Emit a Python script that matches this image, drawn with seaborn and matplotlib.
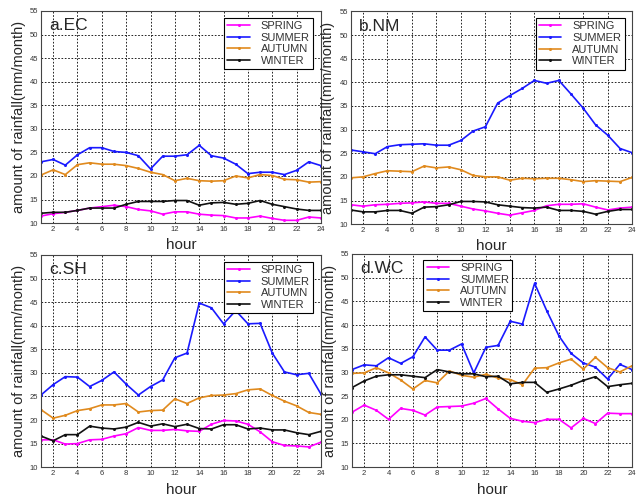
import pandas as pd
import matplotlib.pyplot as plt
import seaborn as sns

# heures et saisons
hours = list(range(1, 25))
seasons = ["SPRING", "SUMMER", "AUTUMN", "WINTER"]
colors = {"SPRING": "#ff00ff", "SUMMER": "#1a1aff", "AUTUMN": "#e08a1e", "WINTER": "#111111"}

# a.EC
ec_spring = [11.5, 12.0, 12.3, 12.7, 13.2, 13.5, 13.8, 13.5, 12.9, 12.6, 11.9, 12.4,
             12.4, 11.9, 11.7, 11.6, 11.1, 11.1, 11.5, 11.0, 10.6, 10.6, 11.3, 11.1]
ec_summer = [23.0, 23.5, 22.3, 24.5, 26.0, 26.0, 25.2, 25.0, 24.3, 21.5, 24.2, 24.2,
             24.5, 26.5, 24.3, 23.8, 22.5, 20.5, 20.8, 20.8, 20.3, 21.2, 23.0, 22.2]
ec_autumn = [20.2, 21.3, 20.3, 22.4, 22.8, 22.5, 22.5, 22.2, 21.6, 20.8, 20.3, 19.0,
             19.5, 19.0, 18.9, 19.0, 20.0, 19.6, 20.3, 20.1, 19.3, 19.2, 18.7, 18.8]
ec_winter = [12.1, 12.3, 12.3, 12.7, 13.2, 13.2, 13.2, 14.0, 14.6, 14.6, 14.6, 14.8,
             14.8, 13.8, 14.3, 14.4, 14.0, 14.2, 14.8, 14.0, 13.5, 13.0, 12.7, 12.7]

# b.NM
nm_spring = [14.1, 13.8, 14.1, 14.2, 14.4, 14.5, 14.7, 14.4, 14.4, 13.8, 13.2, 12.8,
             12.3, 11.9, 12.4, 12.9, 13.9, 14.2, 14.2, 14.3, 13.6, 13.0, 13.4, 13.6]
nm_summer = [25.7, 25.3, 24.9, 26.4, 26.8, 26.9, 27.0, 26.7, 26.7, 27.7, 29.7, 30.6,
             35.6, 37.2, 38.7, 40.4, 39.8, 40.4, 37.5, 34.5, 31.0, 28.8, 26.0, 25.1]
nm_autumn = [19.8, 20.0, 20.7, 21.3, 21.2, 21.1, 22.3, 21.9, 22.1, 21.5, 20.3, 20.0,
             20.0, 19.3, 19.7, 19.6, 19.7, 19.7, 19.4, 19.0, 19.2, 19.1, 19.0, 19.9]
nm_winter = [13.0, 12.6, 12.6, 12.9, 12.9, 12.3, 13.6, 13.7, 14.1, 14.8, 14.8, 14.7,
             14.1, 13.8, 13.5, 13.4, 13.6, 12.9, 12.9, 12.7, 12.1, 12.7, 13.1, 13.1]

# c.SH
sh_spring = [15.8, 15.8, 14.9, 15.0, 15.8, 15.9, 16.6, 17.1, 18.4, 17.8, 17.8, 18.0,
             17.7, 17.6, 19.1, 19.9, 19.8, 19.1, 17.5, 15.4, 14.6, 14.5, 14.3, 15.3]
sh_summer = [25.3, 27.5, 29.2, 29.1, 27.1, 28.4, 30.2, 27.6, 25.3, 27.1, 28.5, 33.2,
             34.2, 44.8, 43.8, 40.4, 43.2, 40.4, 40.5, 34.2, 30.2, 29.6, 29.9, 25.5]
sh_autumn = [22.2, 20.4, 21.0, 22.0, 22.4, 23.2, 23.2, 23.5, 21.7, 22.0, 22.1, 24.5,
             23.5, 24.7, 25.2, 25.3, 25.6, 26.4, 26.6, 25.2, 24.0, 23.0, 21.6, 21.2]
sh_winter = [16.6, 15.6, 16.9, 16.9, 18.7, 18.3, 18.1, 18.5, 19.5, 18.7, 19.2, 18.6,
             19.1, 18.2, 18.1, 19.0, 19.0, 18.1, 18.3, 17.9, 17.9, 17.3, 16.9, 17.6]

# d.WC
wc_spring = [21.6, 23.1, 22.0, 20.1, 22.4, 22.0, 21.0, 22.7, 22.8, 22.9, 23.5, 24.5,
             22.3, 20.3, 19.7, 19.4, 20.1, 20.1, 18.3, 20.3, 19.2, 21.4, 21.3, 21.3]
wc_summer = [30.6, 31.6, 31.4, 33.1, 31.9, 33.3, 37.5, 34.7, 34.7, 36.0, 29.9, 35.3,
             35.7, 40.8, 40.2, 48.8, 43.0, 37.7, 34.0, 32.0, 31.1, 28.6, 31.7, 30.6]
wc_autumn = [29.8, 29.9, 31.0, 29.9, 28.4, 26.5, 28.3, 27.8, 30.3, 29.4, 29.0, 29.6,
             28.8, 28.5, 27.4, 30.9, 31.0, 32.0, 32.8, 30.7, 33.2, 31.0, 30.1, 31.4]
wc_winter = [26.8, 28.2, 29.2, 29.5, 29.5, 29.2, 28.9, 30.6, 30.1, 29.7, 29.7, 29.1,
             29.2, 27.6, 27.9, 27.9, 25.8, 26.5, 27.3, 28.3, 29.1, 27.0, 27.4, 27.7]

panels = [
    ("a.EC", [ec_spring, ec_summer, ec_autumn, ec_winter]),
    ("b.NM", [nm_spring, nm_summer, nm_autumn, nm_winter]),
    ("c.SH", [sh_spring, sh_summer, sh_autumn, sh_winter]),
    ("d.WC", [wc_spring, wc_summer, wc_autumn, wc_winter]),
]

sns.set_theme(style="white")
plt.rcParams["font.family"] = ["Liberation Sans", "DejaVu Sans"]

fig = plt.figure(figsize=(6.4, 4.97), dpi=100)
# positions des 4 axes (gauche, bas, largeur, hauteur)
boxes = [(0.064, 0.551, 0.4375, 0.427), (0.548, 0.549, 0.44, 0.428),
         (0.064, 0.060, 0.4375, 0.427), (0.550, 0.060, 0.4375, 0.429)]

for (name, series), box in zip(panels, boxes):
    ax = fig.add_axes(box)
    df = pd.DataFrame({
        "hour": hours * 4,
        "value": sum(series, []),
        "season": [s for s in seasons for _ in hours],
    })
    sns.lineplot(data=df, x="hour", y="value", hue="season", palette=colors,
                 marker="o", markersize=2.2, markeredgewidth=0, linewidth=1.2, ax=ax)
    ax.set_xlim(1, 24)
    ax.set_ylim(10, 55)
    ax.set_xticks(range(2, 25, 2))
    ax.set_yticks(range(10, 56, 5))
    ax.grid(True, color="black", linestyle=(0, (2, 2)), linewidth=0.6)
    ax.tick_params(direction="in", length=3, width=0.6, labelsize=5.5,
                   labelcolor="#333333", pad=2)
    for sp in ax.spines.values():
        sp.set_color("#444444")
        sp.set_linewidth(0.8)
    ax.set_xlabel("hour", fontsize=11, labelpad=4)
    ax.set_ylabel("amount of rainfall(mm/month)", fontsize=10.5, labelpad=3)
    ax.text(0.03, 0.965, name, transform=ax.transAxes, fontsize=12.5,
            va="top", ha="left")
    leg_opts = dict(fontsize=8, labelspacing=0.15, borderpad=0.3,
                    handlelength=2.0, handletextpad=1.0, fancybox=False,
                    framealpha=1, edgecolor="black", title=None)
    if name == "d.WC":
        leg = ax.legend(loc="upper left", bbox_to_anchor=(0.235, 1.0), **leg_opts)
    else:
        leg = ax.legend(loc="upper right", bbox_to_anchor=(0.992, 0.995), **leg_opts)
    leg.get_frame().set_linewidth(0.8)
    for t in leg.get_texts():
        t.set_color("#333333")

fig.savefig("out.png", dpi=100)
